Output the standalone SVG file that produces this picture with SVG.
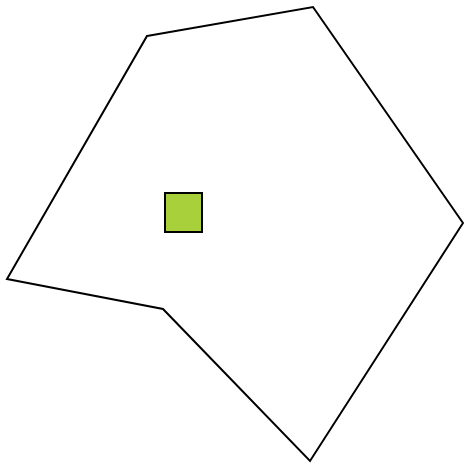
<svg xmlns="http://www.w3.org/2000/svg" width="464" height="465" viewBox="0 0 464 465">
<style>
.outline{fill:none;stroke:#000;stroke-width:2;stroke-linejoin:miter}
.box{fill:#a8d03a;stroke:#000;stroke-width:2}
</style>
<rect width="464" height="465" fill="#fff"/>
<g id="region">
<polygon class="outline" points="147,36 313,7 463,223 310,461 163,309 7,279"/>
</g>
<g id="square">
<rect class="box" x="165" y="193" width="37" height="39"/>
</g>
<g id="connectors"></g>
</svg>
